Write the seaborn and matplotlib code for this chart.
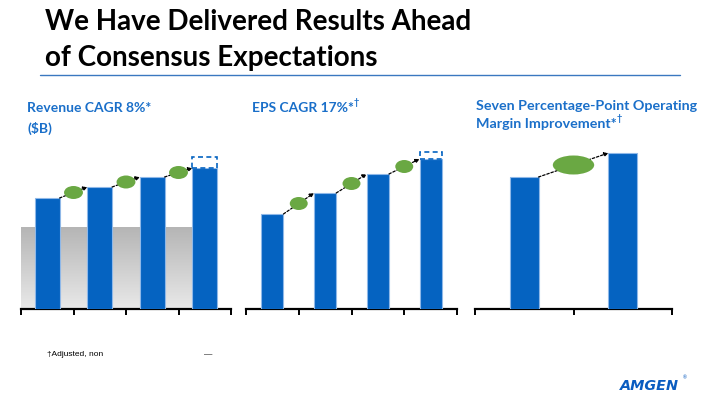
import matplotlib
matplotlib.use("Agg")
import matplotlib.pyplot as plt
import seaborn as sns
import numpy as np
import pandas as pd
from matplotlib.patches import Ellipse
from matplotlib.colors import LinearSegmentedColormap

# ---- data (relative bar heights; no value axis shown) ----
rev_periods = ["P1", "P2", "P3", "P4"]
rev_values = [11.1, 12.2, 13.2, 14.1]
rev_consensus_top = 15.2          # dashed box top on last bar
rev_gray_band = 8.2               # shaded gradient band height

eps_periods = ["P1", "P2", "P3", "P4"]
eps_values = [9.5, 11.6, 13.5, 15.0]
eps_consensus_top = 15.7

margin_periods = ["Start", "End"]
margin_values = [13.2, 15.6]

main_title = "We Have Delivered Results Ahead\nof Consensus Expectations"
footnote = "\u2020Adjusted, non"

BLUE = "#0563C1"
EDGE = "#8fb8e8"
GREEN = "#6aa843"
TITLE_BLUE = "#1a6fc9"

sns.set_theme(style="white")
plt.rcParams["font.family"] = ["Lato", "DejaVu Sans"]

W, H = 720, 405
fig = plt.figure(figsize=(7.2, 4.05), dpi=100)
fig.patch.set_facecolor("white")

def px_axes(x0, x1, y_base, y_top):
    return fig.add_axes([x0 / W, 1 - y_base / H, (x1 - x0) / W, (y_base - y_top) / H])

YMAX = 16.9

def style_axis(ax, n):
    ax.set_ylim(0, YMAX)
    ax.set_xlim(-0.5, n - 0.5)
    for s in ["top", "left", "right"]:
        ax.spines[s].set_visible(False)
    ax.spines["bottom"].set_color("black")
    ax.spines["bottom"].set_linewidth(1.6)
    ax.set_xticks(np.arange(n + 1) - 0.5)
    ax.set_xticklabels([])
    ax.set_yticks([])
    ax.tick_params(axis="x", direction="out", length=4, width=1.4, color="black", bottom=True)
    ax.set_xlabel("")
    ax.set_ylabel("")
    ax.patch.set_alpha(0)

def draw_panel(ax, cats, vals, width, ell_w, ell_h, consensus_top=None):
    df = pd.DataFrame({"period": cats, "value": vals})
    sns.barplot(data=df, x="period", y="value", ax=ax, color=BLUE, saturation=1,
                width=width, edgecolor=EDGE, linewidth=0.8, zorder=3)
    n = len(vals)
    if consensus_top is not None:
        ax.bar(n - 1, consensus_top - vals[-1], bottom=vals[-1], width=width,
               facecolor="white", edgecolor=BLUE, linestyle=(0, (3, 2)),
               linewidth=1.2, zorder=3)
    for i in range(n - 1):
        x0, y0 = i + width / 2, vals[i]
        x1, y1 = i + 1 - width / 2, vals[i + 1]
        ax.annotate("", xy=(x1, y1), xytext=(x0, y0),
                    arrowprops=dict(arrowstyle="-|>", linestyle=(0, (2, 1.5)),
                                    color="black", lw=0.9, mutation_scale=6,
                                    shrinkA=0, shrinkB=0), zorder=4)
        ax.add_patch(Ellipse(((x0 + x1) / 2, (y0 + y1) / 2), ell_w, ell_h,
                             facecolor=GREEN, edgecolor="none", zorder=5))
    style_axis(ax, n)

# Panel 1: revenue
ax1 = px_axes(21, 231, 309, 140)
cmap = LinearSegmentedColormap.from_list("g", ["#e9e9e9", "#b5b5b5"])
grad = np.linspace(0, 1, 256).reshape(-1, 1)
rev_w = 0.47
ax1.imshow(grad, cmap=cmap, origin="lower", aspect="auto",
           extent=[-0.5, len(rev_values) - 1 - rev_w / 2, 0, rev_gray_band], zorder=1)
draw_panel(ax1, rev_periods, rev_values, rev_w, 0.36, 1.3, rev_consensus_top)

# Panel 2: EPS
ax2 = px_axes(246, 457, 309, 140)
draw_panel(ax2, eps_periods, eps_values, 0.42, 0.34, 1.3, eps_consensus_top)

# Panel 3: operating margin
ax3 = px_axes(475, 672, 309, 140)
draw_panel(ax3, margin_periods, margin_values, 0.29, 0.42, 1.9)

# ---- texts ----
fig.text(45 / W, 1 - 40 / H, main_title, fontsize=20, fontweight="bold",
         color="black", va="center", ha="left", linespacing=1.5)
fig.add_artist(plt.Line2D([40 / W, 680 / W], [1 - 75 / H, 1 - 75 / H],
                          color="#3a78c0", lw=1.0))

def ptitle(x, y, s, dagger=False, size=10):
    t = fig.text(x / W, 1 - y / H, s, fontsize=size, fontweight="bold",
                 color=TITLE_BLUE, va="center", ha="left")
    if dagger:
        fig.add_artist(plt.Annotation("\u2020", xy=(1.0, 0.95), xycoords=t,
                                      fontsize=6.5, fontweight="bold",
                                      color=TITLE_BLUE, ha="left", va="center"))
    return t

ptitle(27, 108, "Revenue CAGR 8%*")
ptitle(27, 128, "($B)")
ptitle(252, 108, "EPS CAGR 17%*", dagger=True)
ptitle(476, 106, "Seven Percentage-Point Operating", size=10.3)
ptitle(476, 124, "Margin Improvement*", dagger=True, size=10.3)

fig.text(47 / W, 1 - 355 / H, footnote, fontsize=6, color="black",
         va="center", ha="left", family=["Liberation Sans", "DejaVu Sans"])
fig.text(204 / W, 1 - 355 / H, "\u2014", fontsize=6, color="black",
         va="center", ha="left", family=["Liberation Sans", "DejaVu Sans"])

fig.text(620 / W, 1 - 386 / H, "AMGEN", fontsize=10.4, fontweight="heavy",
         style="italic", color="#0a5cc0", va="center", ha="left",
         family=["DejaVu Sans"])
fig.text(683 / W, 1 - 378 / H, "\u00ae", fontsize=3.5, color="#0a5cc0",
         va="center", ha="left")

fig.savefig("out.png", dpi=100, facecolor="white")
